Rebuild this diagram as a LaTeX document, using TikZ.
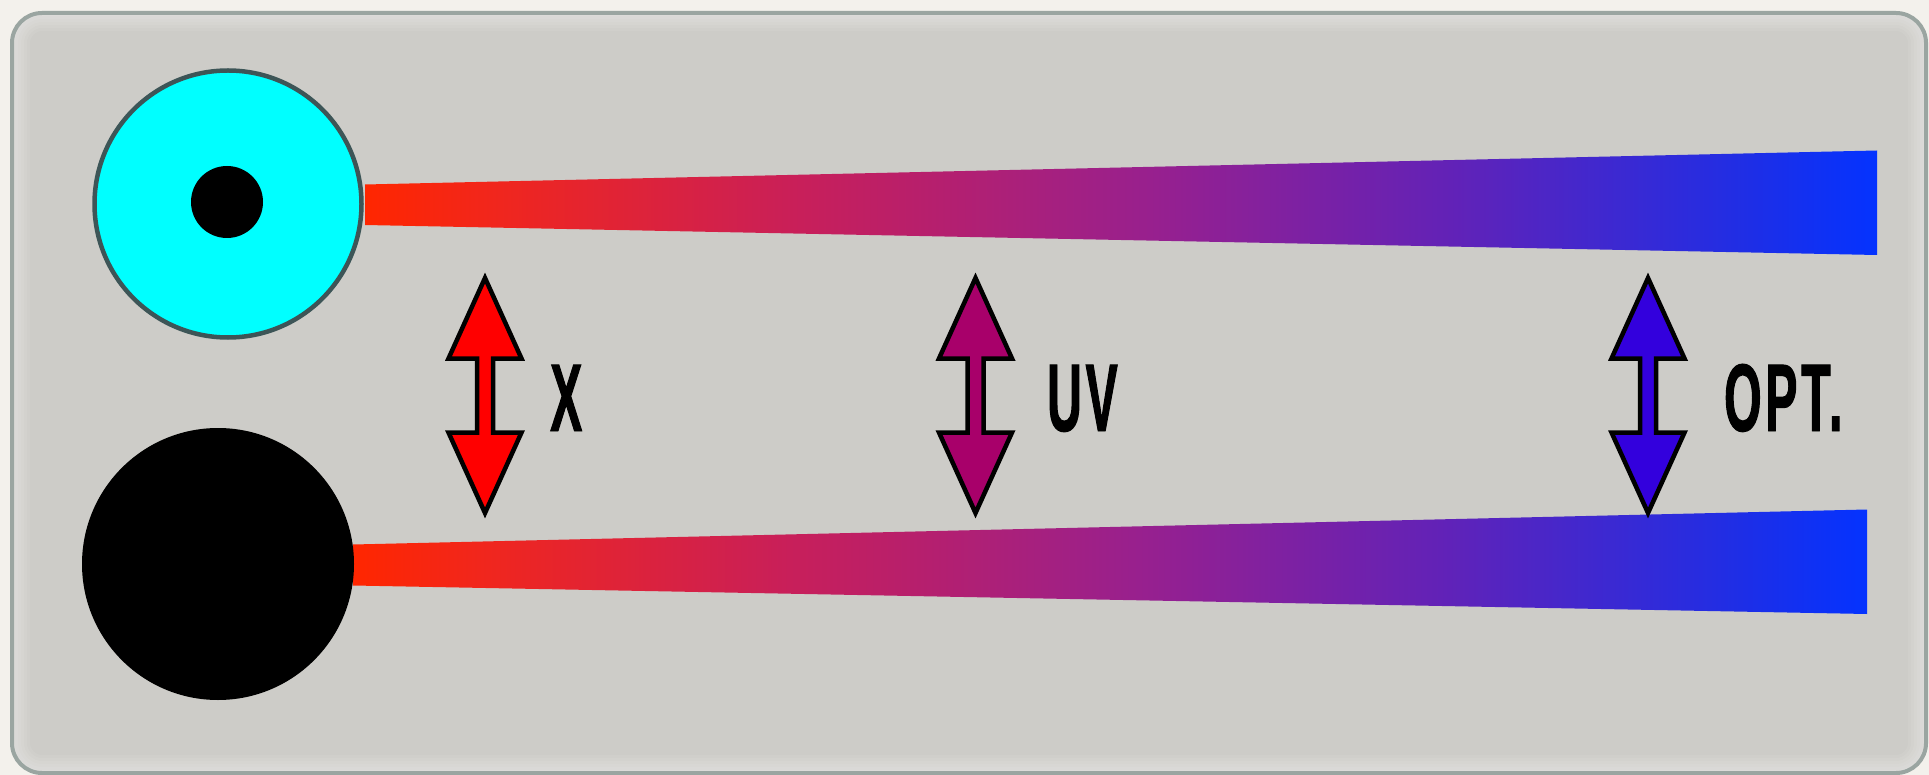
\documentclass[tikz,border=0pt]{standalone}
\usepackage{fontspec}
\newfontfamily\labelfont[FakeStretch=0.5,FakeBold=1,LetterSpace=4]{Liberation Sans}
\definecolor{bgout}{HTML}{F3F1EC}
\definecolor{panelfill}{HTML}{CDCCC8}
\definecolor{panelborder}{HTML}{9AA5A1}
\definecolor{cyanfill}{HTML}{00FFFF}
\definecolor{ringcol}{HTML}{3D5557}
\definecolor{fa}{HTML}{FF2600}
\definecolor{fb}{HTML}{F0261E}
\definecolor{fc}{HTML}{C81F5A}
\definecolor{fd}{HTML}{98208E}
\definecolor{fe}{HTML}{6222B7}
\definecolor{ff}{HTML}{1E2EE6}
\definecolor{fg}{HTML}{0433FF}
\definecolor{arrowred}{HTML}{FF0000}
\definecolor{arrowmag}{HTML}{A8006A}
\definecolor{arrowblue}{HTML}{3300DD}
\pgfdeclarehorizontalshading{fibreshade}{100bp}{color(0bp)=(fa); color(25bp)=(fa);
  color(29.45bp)=(fb); color(39.4bp)=(fc); color(50.95bp)=(fd); color(60.9bp)=(fe);
  color(70.8bp)=(ff); color(75bp)=(fg); color(100bp)=(fg)}
\begin{document}
\begin{tikzpicture}[x=1pt,y=-1pt,
  lbl/.style={font=\labelfont\bfseries\fontsize{96}{96}\selectfont, inner sep=0pt, anchor=base west, text=black},
  bar/.style={shading=fibreshade},
  pics/dblarrow/.style={code={
    \filldraw[fill=#1, draw=black, line width=4.5pt, line join=miter]
      (0,-117.5) -- (36.5,-37) -- (8,-37) -- (8,37) -- (36.5,37) -- (0,117.5)
      -- (-36.5,37) -- (-8,37) -- (-8,-37) -- (-36.5,-37) -- cycle;}}
]
\useasboundingbox (0,0) rectangle (1929,775);
\fill[bgout] (0,0) rectangle (1929,775);
\fill[panelfill, rounded corners=30pt] (12,13) rectangle (1926,773);
\begin{scope}
  \clip[rounded corners=30pt] (12,13) rectangle (1926,773);
  \foreach \w in {6,12,...,36}
    \draw[white, opacity=0.07, line width=\w pt, rounded corners=30pt] (12,13) rectangle (1926,773);
\end{scope}
\draw[panelborder, line width=4pt, rounded corners=30pt] (12,13) rectangle (1926,773);

% fibres / bars
\shade[bar] (365,184.5) -- (1877,150.5) -- (1877,255) -- (365,225) -- cycle;
\shade[bar] (353,544.5) -- (1867,509.5) -- (1867,614) -- (353,585.5) -- cycle;

% circles
\node[circle, fill=cyanfill, draw=ringcol, line width=4.5pt, minimum size=267pt, inner sep=0pt] (lens) at (228,204) {};
\node[circle, fill=black, minimum size=72pt, inner sep=0pt] (core) at (227,202) {};
\node[circle, fill=black, minimum size=272pt, inner sep=0pt] (dark) at (218,564) {};

% double arrows
\pic at (485,395.5) {dblarrow=arrowred};
\pic at (975.5,395.5) {dblarrow=arrowmag};
\pic at (1648,395.5) {dblarrow=arrowblue};

% labels
\node[lbl] (lx) at (550,431) {X};
\node[lbl] (luv) at (1047,431) {UV};
\node[lbl] (lopt) at (1724,431) {OPT.};
\end{tikzpicture}
\end{document}
